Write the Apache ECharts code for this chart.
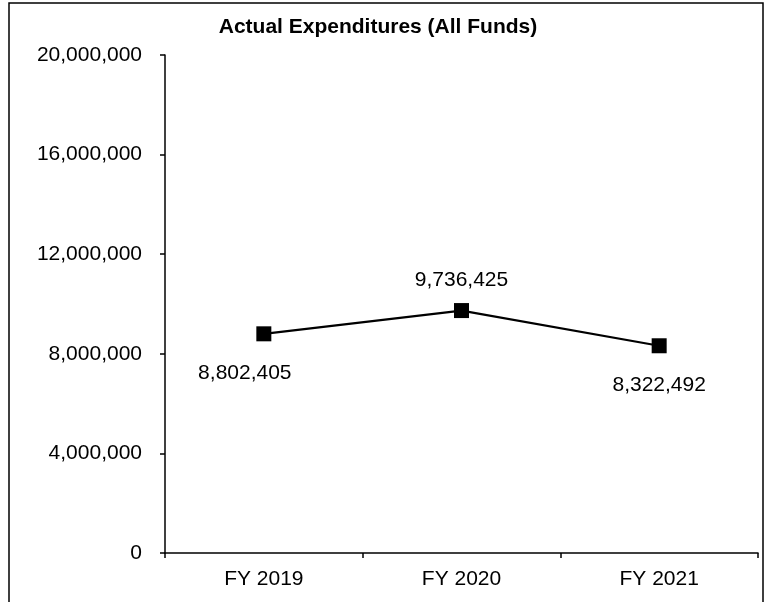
<!DOCTYPE html>
<html>
<head>
<meta charset="utf-8">
<style>
  html, body { margin: 0; padding: 0; background: #fff; }
  #chart { width: 768px; height: 602px; }
</style>
<script src="https://cdn.jsdelivr.net/npm/echarts@6/dist/echarts.min.js"></script>
</head>
<body>
<div id="chart"></div>
<script>
// Fiscal years and total expenditures (all funds)
const categories = ['FY 2019', 'FY 2020', 'FY 2021'];
const expenditures = [8802405, 9736425, 8322492];
const yTicks = [0, 4000000, 8000000, 12000000, 16000000, 20000000];

const FONT = '"Liberation Sans", Arial, sans-serif';
const fmt = v => v.toLocaleString('en-US');

// Per-point label placement: first and last below the marker, middle above
const labelPlacement = [
  { position: 'bottom', distance: 21, offset: [-19, 0] },
  { position: 'top', distance: 12, offset: [0, 0] },
  { position: 'bottom', distance: 21, offset: [0, 0] }
];

const seriesData = expenditures.map((v, i) => ({
  value: v,
  label: labelPlacement[i]
}));

const chart = echarts.init(document.getElementById('chart'), null, { renderer: 'canvas' });

chart.setOption({
  backgroundColor: '#ffffff',
  animation: false,
  textStyle: { fontFamily: FONT, color: '#000' },
  title: {
    text: 'Actual Expenditures (All Funds)',
    left: 373,
    textAlign: 'center',
    top: 12,
    textStyle: { fontFamily: FONT, fontSize: 21, fontWeight: 'bold', color: '#000' }
  },
  grid: { left: 165, right: 10, top: 55, bottom: 49, containLabel: false },
  xAxis: {
    type: 'category',
    data: categories,
    boundaryGap: true,
    axisLine: { lineStyle: { color: '#000', width: 1.5 } },
    axisTick: { show: true, alignWithLabel: false, length: 5, lineStyle: { color: '#000', width: 1.5 } },
    axisLabel: { fontFamily: FONT, fontSize: 21, color: '#000', margin: 16 },
    splitLine: { show: false }
  },
  yAxis: {
    type: 'value',
    min: yTicks[0],
    max: yTicks[yTicks.length - 1],
    interval: yTicks[1] - yTicks[0],
    axisLine: { show: true, lineStyle: { color: '#000', width: 1.5 } },
    axisTick: { show: true, length: 5, lineStyle: { color: '#000', width: 1.5 } },
    axisLabel: { fontFamily: FONT, fontSize: 21, color: '#000', margin: 23, formatter: fmt },
    splitLine: { show: false }
  },
  series: [{
    type: 'line',
    data: seriesData,
    symbol: 'rect',
    symbolSize: 15,
    lineStyle: { color: '#000', width: 2.2 },
    itemStyle: { color: '#000' },
    label: {
      show: true,
      fontFamily: FONT,
      fontSize: 21,
      color: '#000',
      formatter: p => fmt(p.value)
    }
  }],
  graphic: [{
    type: 'rect',
    shape: { x: 9, y: 3, width: 754, height: 640 },
    style: { fill: null, stroke: '#000', lineWidth: 1.5 },
    silent: true,
    z: 100
  }]
});
</script>
</body>
</html>
